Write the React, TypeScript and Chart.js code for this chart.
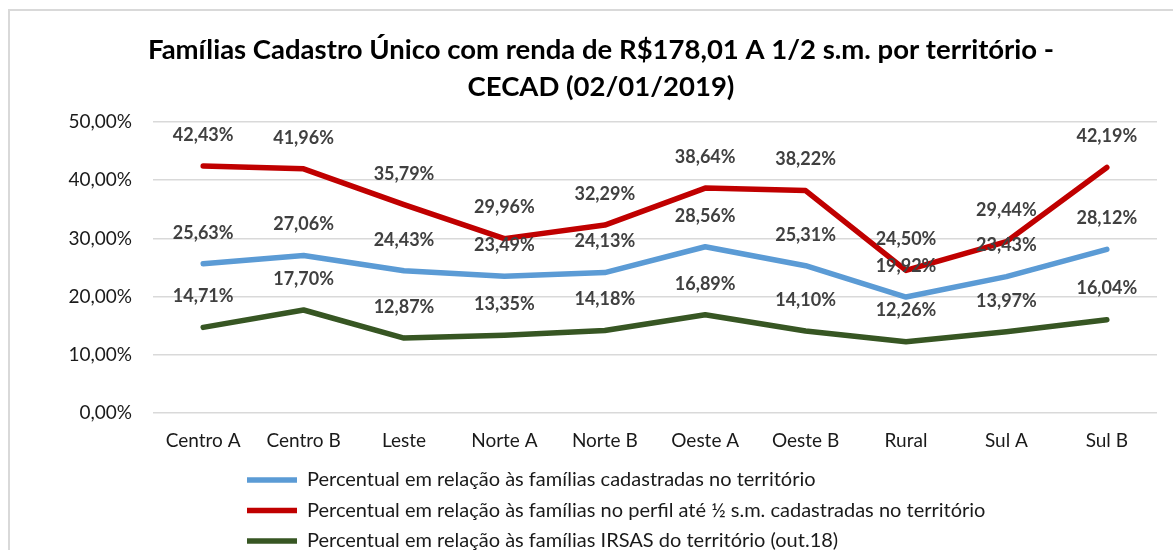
import React, { useEffect, useRef } from "react";
import { Chart, registerables } from "chart.js";

Chart.register(...registerables);

const categories = ["Centro A", "Centro B", "Leste", "Norte A", "Norte B", "Oeste A", "Oeste B", "Rural", "Sul A", "Sul B"];
const seriesCadastradas = [25.63, 27.06, 24.43, 23.49, 24.13, 28.56, 25.31, 19.92, 23.43, 28.12];
const seriesPerfil = [42.43, 41.96, 35.79, 29.96, 32.29, 38.64, 38.22, 24.5, 29.44, 42.19];
const seriesIrsas = [14.71, 17.7, 12.87, 13.35, 14.18, 16.89, 14.1, 12.26, 13.97, 16.04];
const seriesNames = [
  "Percentual em relação às famílias cadastradas no território",
  "Percentual em relação às famílias no perfil até ½ s.m. cadastradas no território",
  "Percentual em relação às famílias IRSAS do território (out.18)",
];
const titleLines = ["Famílias Cadastro Único com renda de R$178,01 A 1/2 s.m. por território -", "CECAD (02/01/2019)"];
const yTicks = { min: 0, max: 50, step: 10 };

const FONT = "Lato, 'Open Sans', sans-serif";
const fmt = (v: number) => v.toFixed(2).replace(".", ",") + "%";

const CANVAS_W = 1202;
const CANVAS_H = 600;
const LEGEND_PAD = 10.5;

const dataLabelPlugin = {
  id: "dataLabels",
  afterDatasetsDraw(chart: any) {
    const ctx = chart.ctx;
    ctx.save();
    ctx.font = `bold 18px ${FONT}`;
    ctx.fillStyle = "#404040";
    ctx.textAlign = "center";
    ctx.textBaseline = "middle";
    chart.data.datasets.forEach((ds: any, i: number) => {
      const meta = chart.getDatasetMeta(i);
      meta.data.forEach((pt: any, j: number) => {
        ctx.fillText(fmt(ds.data[j]), pt.x, pt.y - 31);
      });
    });
    ctx.restore();
  },
};

const legendShiftPlugin = {
  id: "legendShift",
  beforeDraw(chart: any) {
    if (chart.legend) {
      const shift = 247 - LEGEND_PAD - chart.legend.left;
      chart.legend.left += shift;
      chart.legend.right += shift;
    }
  },
};

export default function App() {
  const ref = useRef<HTMLCanvasElement | null>(null);

  useEffect(() => {
    if (!ref.current) return;
    const mk = (label: string, data: number[], color: string) => ({
      label,
      data,
      borderColor: color,
      backgroundColor: color,
      borderWidth: 5.5,
      borderCapStyle: "round" as const,
      borderJoinStyle: "round" as const,
      pointRadius: 0,
      tension: 0,
      fill: false,
    });
    const chart = new Chart(ref.current, {
      type: "line",
      data: {
        labels: categories,
        datasets: [
          mk(seriesNames[0], seriesCadastradas, "#5B9BD5"),
          mk(seriesNames[1], seriesPerfil, "#C00000"),
          mk(seriesNames[2], seriesIrsas, "#375623"),
        ],
      },
      options: {
        responsive: false,
        animation: false,
        devicePixelRatio: 1,
        layout: { padding: { left: 45, right: 45, top: 0, bottom: 39 } },
        plugins: {
          title: {
            display: true,
            text: titleLines,
            color: "#000000",
            font: { family: FONT, size: 27.5, weight: "bold", lineHeight: 37 / 27.5 },
            padding: { top: 31.5, bottom: 16.5 },
          },
          legend: {
            display: true,
            position: "bottom",
            align: "start",
            labels: {
              usePointStyle: true,
              pointStyle: "line",
              pointStyleWidth: 50,
              color: "#1a1a1a",
              font: { family: FONT, size: 20 },
              padding: LEGEND_PAD,
            },
          },
          tooltip: { enabled: false },
        },
        scales: {
          x: {
            offset: true,
            grid: { display: false, drawTicks: false },
            border: { display: false },
            ticks: { color: "#1a1a1a", font: { family: FONT, size: 19 }, padding: 16, maxRotation: 0, autoSkip: false },
            afterFit: (scale: any) => {
              scale.height = 46.5;
            },
          },
          y: {
            min: yTicks.min,
            max: yTicks.max,
            grid: { color: "#d9d9d9", lineWidth: 1.5, drawTicks: false },
            border: { display: false },
            ticks: {
              stepSize: yTicks.step,
              color: "#1a1a1a",
              font: { family: FONT, size: 19 },
              padding: 21,
              callback: (v: any) => fmt(Number(v)),
            },
            afterFit: (scale: any) => {
              scale.width = 108;
            },
          },
        },
      },
      plugins: [dataLabelPlugin, legendShiftPlugin],
    });
    return () => chart.destroy();
  }, []);

  return (
    <div style={{ position: "fixed", left: 0, top: 0, width: 1173, height: 550, overflow: "hidden", background: "#fff" }}>
      <div
        style={{
          position: "absolute",
          left: 8,
          top: 9,
          width: 1200,
          height: 600,
          borderTop: "2px solid #d9d9d9",
          borderLeft: "2px solid #d9d9d9",
        }}
      />
      <canvas
        ref={ref}
        width={CANVAS_W}
        height={CANVAS_H}
        style={{ position: "absolute", left: 0, top: 0, width: CANVAS_W, height: CANVAS_H }}
      />
    </div>
  );
}
